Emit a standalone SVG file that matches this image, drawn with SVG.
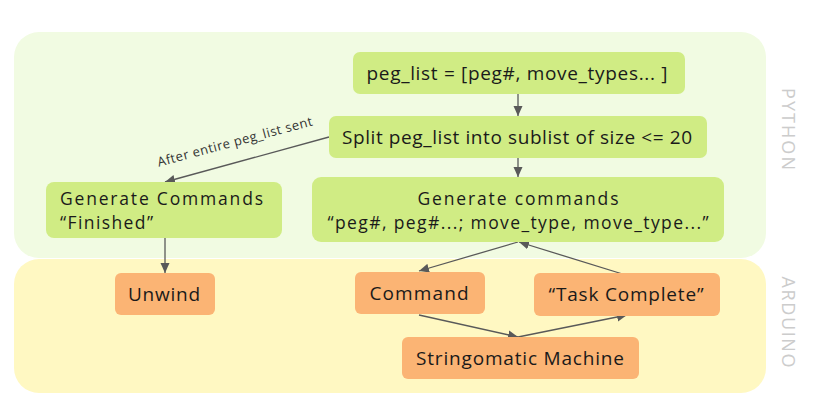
<svg xmlns="http://www.w3.org/2000/svg" width="818" height="417" viewBox="0 0 818 417">
<defs>
<marker id="arr" viewBox="0 0 10 10" refX="10" refY="5" markerWidth="10" markerHeight="10" markerUnits="userSpaceOnUse" orient="auto">
<path d="M0,0.5 L10,5 L0,9.5 z" fill="#595959"/>
</marker>
<style>
.lane-py{fill:#f1fbe2}
.lane-ar{fill:#fff8c2}
.g{fill:#d0ec84}
.o{fill:#fbb474}
.t{font-family:"Open Sans",Lato,"Liberation Sans",sans-serif;font-size:19px;fill:#1a1a1a}
.t2{font-family:"Open Sans",Lato,"Liberation Sans",sans-serif;font-size:17.5px;fill:#1a1a1a}
.lane-label{font-family:"Open Sans",Lato,"Liberation Sans",sans-serif;font-size:18px;fill:#cccccc}
.e{fill:none;stroke:#595959;stroke-width:1.3;marker-end:url(#arr)}
.el{font-family:"Open Sans",Lato,"Liberation Sans",sans-serif;font-size:13px;fill:#333333}
</style>
</defs>
<rect width="818" height="417" fill="#ffffff"/>
<g id="lane-python">
<rect class="lane-py" x="14" y="32" width="752" height="226" rx="25"/>
<text class="lane-label" transform="translate(782,129) rotate(90)" text-anchor="middle" textLength="82" lengthAdjust="spacing">PYTHON</text>
</g>
<g id="lane-arduino">
<rect class="lane-ar" x="14" y="259" width="752" height="134" rx="25"/>
<text class="lane-label" transform="translate(782,322) rotate(90)" text-anchor="middle" textLength="91" lengthAdjust="spacing">ARDUINO</text>
</g>
<g id="connectors">
<line class="e" x1="518" y1="94" x2="518" y2="116"/>
<line class="e" x1="518" y1="158" x2="518" y2="177"/>
<line class="e" x1="329" y1="137" x2="165" y2="182"/>
<line class="e" x1="165" y1="238" x2="165" y2="273"/>
<line class="e" x1="518" y1="242" x2="419" y2="271"/>
<line class="e" x1="629" y1="276" x2="519" y2="242"/>
<line class="e" x1="419" y1="315" x2="518" y2="337"/>
<line class="e" x1="518" y1="337" x2="627" y2="315"/>
<text class="el" transform="translate(236,146) rotate(-15)" text-anchor="middle" textLength="160" lengthAdjust="spacing">After entire peg_list sent</text>
</g>
<g id="n-peglist">
<rect class="g" x="353" y="52" width="332" height="42" rx="7"/>
<text class="t" x="517" y="80" text-anchor="middle" textLength="301" lengthAdjust="spacing">peg_list = [peg#, move_types... ]</text>
</g>
<g id="n-split">
<rect class="g" x="329" y="116" width="378" height="42" rx="7"/>
<text class="t" x="517" y="144" text-anchor="middle" textLength="350" lengthAdjust="spacing">Split peg_list into sublist of size &lt;= 20</text>
</g>
<g id="n-generate">
<rect class="g" x="312" y="177" width="412" height="65" rx="9"/>
<text class="t2" x="518" y="205" text-anchor="middle" textLength="201" lengthAdjust="spacing">Generate commands</text>
<text class="t2" x="518" y="229" text-anchor="middle" textLength="381" lengthAdjust="spacing">“peg#, peg#...; move_type, move_type...”</text>
</g>
<g id="n-finished">
<rect class="g" x="46" y="182" width="236" height="56" rx="8"/>
<text class="t2" x="60" y="205" textLength="203" lengthAdjust="spacing">Generate Commands</text>
<text class="t2" x="60" y="229" textLength="93" lengthAdjust="spacing">“Finished”</text>
</g>
<g id="n-unwind">
<rect class="o" x="115" y="273" width="100" height="42" rx="6"/>
<text class="t" x="164" y="301" text-anchor="middle" textLength="72" lengthAdjust="spacing">Unwind</text>
</g>
<g id="n-command">
<rect class="o" x="355" y="272" width="130" height="42" rx="6"/>
<text class="t" x="419" y="300" text-anchor="middle" textLength="99" lengthAdjust="spacing">Command</text>
</g>
<g id="n-task">
<rect class="o" x="534" y="273" width="186" height="43" rx="6"/>
<text class="t" x="626" y="301" text-anchor="middle" textLength="155" lengthAdjust="spacing">“Task Complete”</text>
</g>
<g id="n-machine">
<rect class="o" x="402" y="337" width="237" height="42" rx="6"/>
<text class="t" x="520" y="365" text-anchor="middle" textLength="208" lengthAdjust="spacing">Stringomatic Machine</text>
</g>
</svg>
